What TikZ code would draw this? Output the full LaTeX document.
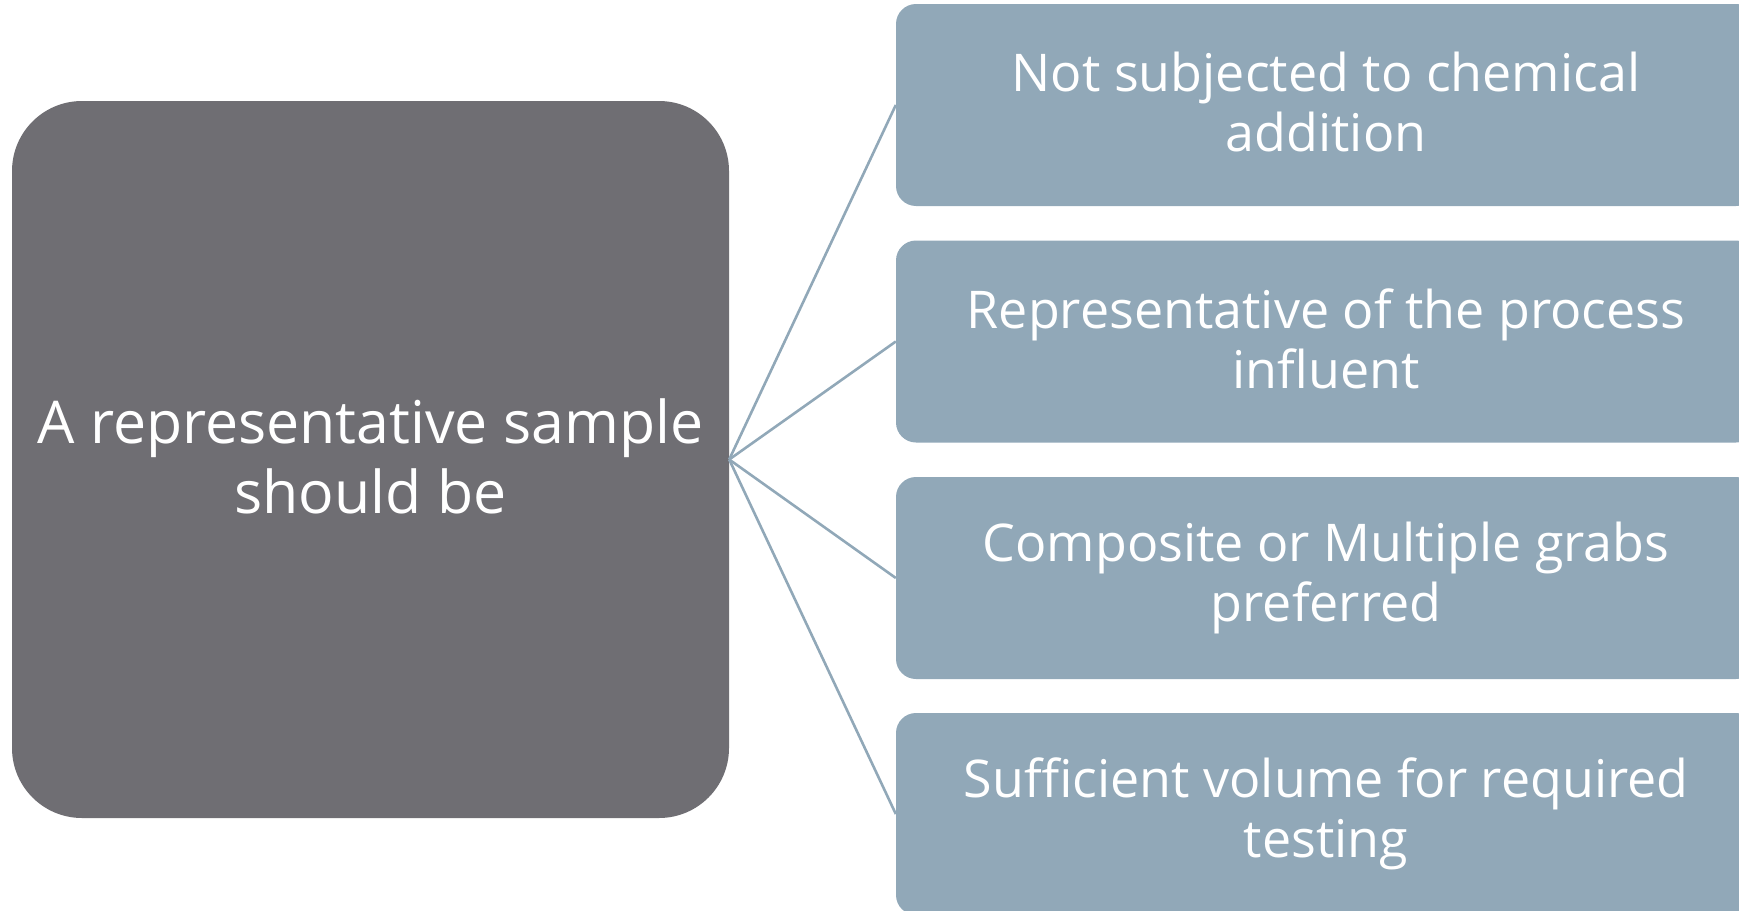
\documentclass[tikz,border=0pt]{standalone}
\usepackage{fontspec}
\setmainfont{Open Sans}

\definecolor{hubgray}{HTML}{6F6E73}
\definecolor{leafblue}{HTML}{91A8B8}

\begin{document}
\begin{tikzpicture}[x=1pt, y=-1pt,
    hub/.style={fill=hubgray, rounded corners=70pt, minimum width=717pt, minimum height=717pt,
      text=white, align=center, font=\fontsize{59}{70}\selectfont},
    leaf/.style={fill=leafblue, rounded corners=20pt, minimum width=860pt, minimum height=202pt,
      text=white, align=center, font=\fontsize{52}{60}\selectfont},
    link/.style={draw=leafblue, line width=2.6pt}]
  \useasboundingbox (0,0) rectangle (1739,910);

  \node[hub] (sample) at (370.5,459.5) {A representative sample\\should be\rule[-6pt]{0pt}{1pt}};

  \node[leaf] (chem) at (1326,105) {Not subjected to chemical\\addition\rule[-6pt]{0pt}{1pt}};
  \node[leaf] (infl) at (1326,341.5) {Representative of the process\\influent\rule[-6pt]{0pt}{1pt}};
  \node[leaf] (comp) at (1326,578) {Composite or Multiple grabs\\preferred\rule[-6pt]{0pt}{1pt}};
  \node[leaf] (vol) at (1326,814) {Sufficient volume for required\\testing\rule[-6pt]{0pt}{1pt}};

  \draw[link] (sample.east) -- (chem.west);
  \draw[link] (sample.east) -- (infl.west);
  \draw[link] (sample.east) -- (comp.west);
  \draw[link] (sample.east) -- (vol.west);
\end{tikzpicture}
\end{document}
